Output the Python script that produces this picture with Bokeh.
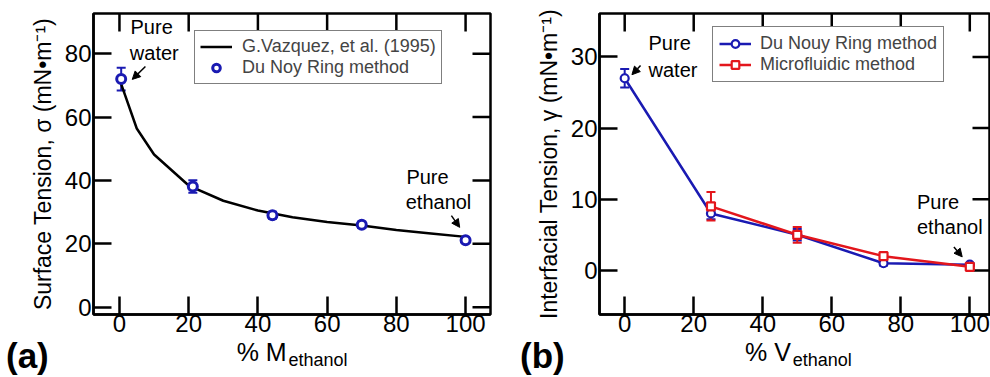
import math
from bokeh.plotting import figure
from bokeh.models import (Range1d, FixedTicker, Whisker, ColumnDataSource, Div,
                          Label, Arrow, NormalHead, TeeHead, Legend, LegendItem)
from bokeh.layouts import row, column
from bokeh.embed import file_html
from bokeh.resources import INLINE

FONT = "Liberation Sans"
BLUE = "#1a1ab2"
RED = "#e3161c"

# ---------------- data: panel (a) ----------------
lit_x = [0, 5, 10, 20, 30, 40, 50, 60, 70, 80, 90, 100]
lit_y = [72.0, 56.4, 48.2, 38.4, 33.6, 30.5, 28.4, 26.9, 25.8, 24.4, 23.3, 22.2]
ring_a_x = [0.5, 21.2, 44.2, 70.0, 100.0]
ring_a_y = [72.0, 38.1, 29.0, 26.0, 21.1]
ring_a_err = [3.6, 2.0, 1.1, 1.0, 0.7]
ticks_a_x = [0, 20, 40, 60, 80, 100]
ticks_a_y = [0, 20, 40, 60, 80]

# ---------------- data: panel (b) ----------------
ring_b_x = [0, 25, 50, 75, 100]
ring_b_y = [27.0, 8.0, 5.0, 1.0, 0.8]
ring_b_err = [1.3, 0.8, 0.8, 0.3, 0.2]
micro_x = [25, 50, 75, 100]
micro_y = [9.0, 5.0, 2.0, 0.5]
micro_err = [2.0, 1.1, 0.4, 0.3]
ticks_b_x = [0, 20, 40, 60, 80, 100]
ticks_b_y = [0, 10, 20, 30]

TICK = 18


def style_axis(ax, ticks):
    ax.ticker = FixedTicker(ticks=ticks)
    ax.major_tick_in = TICK
    ax.major_tick_out = 0
    ax.minor_tick_line_color = None
    ax.major_tick_line_width = 2.5
    ax.major_tick_line_color = "black"
    ax.axis_line_width = 2.5
    ax.axis_line_color = "black"
    ax.major_label_text_font = FONT
    ax.major_label_text_font_size = "24px"
    ax.major_label_text_color = "black"
    ax.axis_label_text_font = FONT
    ax.axis_label_text_font_style = "normal"
    ax.axis_label_text_color = "black"


def make_fig(width, xr, yr, bl, br, xt, yt, ylabel):
    p = figure(width=width, height=341, x_range=Range1d(*xr), y_range=Range1d(*yr),
               output_backend="svg", toolbar_location=None, title=None,
               min_border_left=bl, min_border_right=br, min_border_top=13, min_border_bottom=27)
    p.grid.visible = False
    p.outline_line_color = "black"
    p.outline_line_width = 2.5
    p.outline_line_alpha = 1
    style_axis(p.xaxis[0], xt)
    style_axis(p.yaxis[0], yt)
    p.xaxis[0].major_label_standoff = 0
    p.yaxis[0].major_label_standoff = 2
    p.yaxis[0].axis_label = ylabel
    p.yaxis[0].axis_label_text_font_size = "23px"
    p.yaxis[0].axis_label_standoff = 6
    # mirrored inward ticks on the top and right edges
    p.ray(x=xt, y=[yr[1]] * len(xt), length=TICK, angle=-math.pi / 2,
          length_units="screen", line_color="black", line_width=2.5)
    p.ray(x=[xr[1]] * len(yt), y=yt, length=TICK, angle=math.pi,
          length_units="screen", line_color="black", line_width=2.5)
    return p


def span(left, top, size, text, bold=False):
    w = "bold" if bold else "normal"
    return (f'<span style="position:absolute;left:{left}px;top:{top}px;font-size:{size}px;'
            f'line-height:1;font-weight:{w};white-space:nowrap;">{text}</span>')


def strip(width, parts):
    html = (f'<div style="position:relative;width:{width}px;height:36px;overflow:visible;'
            f"font-family:'{FONT}';color:black;margin:0;padding:0;\">" + "".join(parts) + "</div>")
    return Div(text=html, width=width, height=36, margin=0, styles={"overflow": "visible"})


def txt(p, x, y, s, size="20px"):
    p.add_layout(Label(x=x, y=y, text=s, text_font=FONT, text_font_size=size,
                       text_color="black", text_baseline="middle", text_align="left"))


def arrow(p, x0, y0, x1, y1):
    p.add_layout(Arrow(end=NormalHead(size=8, fill_color="black", line_color="black"),
                       x_start=x0, y_start=y0, x_end=x1, y_end=y1,
                       line_color="black", line_width=1.5))


def whisk(p, src, c):
    p.add_layout(Whisker(base="x", upper="hi", lower="lo", source=src, dimension="height",
                         line_color=c, line_width=2,
                         upper_head=TeeHead(size=9, line_color=c, line_width=2),
                         lower_head=TeeHead(size=9, line_color=c, line_width=2)))


def src(x, y, e):
    return ColumnDataSource(dict(x=x, y=y, lo=[v - d for v, d in zip(y, e)],
                                 hi=[v + d for v, d in zip(y, e)]))


# ================= panel (a) =================
pa = make_fig(505, (-7.5, 107.2), (-2.3, 92.7), 93, 15, ticks_a_x, ticks_a_y,
              "Surface Tension, σ (mN•m⁻¹)")
src_a = src(ring_a_x, ring_a_y, ring_a_err)
whisk(pa, src_a, BLUE)
lit_r = pa.line(lit_x, lit_y, line_color="black", line_width=2.5)
ring_a_r = pa.scatter("x", "y", source=src_a, marker="circle", size=9,
                      line_color=BLUE, line_width=3, fill_color="white")

leg_a = Legend(items=[LegendItem(label="G.Vazquez, et al. (1995)", renderers=[lit_r]),
                      LegendItem(label="Du Noy Ring method", renderers=[ring_a_r])],
               location=(101, 230), padding=5, spacing=0, glyph_width=32, glyph_height=19,
               label_height=19, label_standoff=10, label_text_font=FONT,
               label_text_font_size="18px", border_line_color="black", border_line_width=1.5,
               margin=0, background_fill_alpha=1)
pa.add_layout(leg_a)

txt(pa, 3.2, 88.4, "Pure")
txt(pa, 3.0, 80.2, "water")
arrow(pa, 7.5, 76.0, 3.7, 71.9)
txt(pa, 82.9, 41.0, "Pure")
txt(pa, 82.7, 33.1, "ethanol")
arrow(pa, 95.9, 28.9, 98.3, 25.2)

sa = strip(505, [span(6, -3, 35, "(a)", bold=True),
                 span(236.7, -1, 25, "% M"),
                 span(288.5, 10, 18, "ethanol")])

# ================= panel (b) =================
pb = make_fig(485, (-7.3, 106.0), (-6.2, 36.1), 94, 0, ticks_b_x, ticks_b_y,
              "Interfacial Tension, γ (mN•m⁻¹)")
src_b = src(ring_b_x, ring_b_y, ring_b_err)
src_m = src(micro_x, micro_y, micro_err)
whisk(pb, src_b, BLUE)
whisk(pb, src_m, RED)

rb_line = pb.line("x", "y", source=src_b, line_color=BLUE, line_width=2.5)
rm_line = pb.line("x", "y", source=src_m, line_color=RED, line_width=2.5)
rb_pts = pb.scatter("x", "y", source=src_b, marker="circle", size=8,
                    line_color=BLUE, line_width=2.2, fill_color="white")
rm_pts = pb.scatter("x", "y", source=src_m, marker="square", size=8,
                    line_color=RED, line_width=2.2, fill_color="white")

leg_b = Legend(items=[LegendItem(label="Du Nouy Ring method", renderers=[rb_line, rb_pts]),
                      LegendItem(label="Microfluidic method", renderers=[rm_line, rm_pts])],
               location=(113, 232), padding=6, spacing=0, glyph_width=32, glyph_height=19,
               label_height=19, label_standoff=9, label_text_font=FONT,
               label_text_font_size="18px", border_line_color="black", border_line_width=1.5,
               margin=0, background_fill_alpha=1)
pb.add_layout(leg_b)

txt(pb, 6.9, 31.9, "Pure")
txt(pb, 6.9, 28.1, "water")
arrow(pb, 4.6, 28.8, 2.1, 27.5)
txt(pb, 84.7, 9.6, "Pure")
txt(pb, 84.7, 6.1, "ethanol")
arrow(pb, 95.4, 3.3, 97.8, 1.9)

sb = strip(485, [span(15, -3, 35, "(b)", bold=True),
                 span(240, -1, 25, "% V"),
                 span(287.7, 10, 18, "ethanol")])

layout = column(row(pa, pb), row(sa, sb))
open("out.html", "w").write(file_html(layout, INLINE))
